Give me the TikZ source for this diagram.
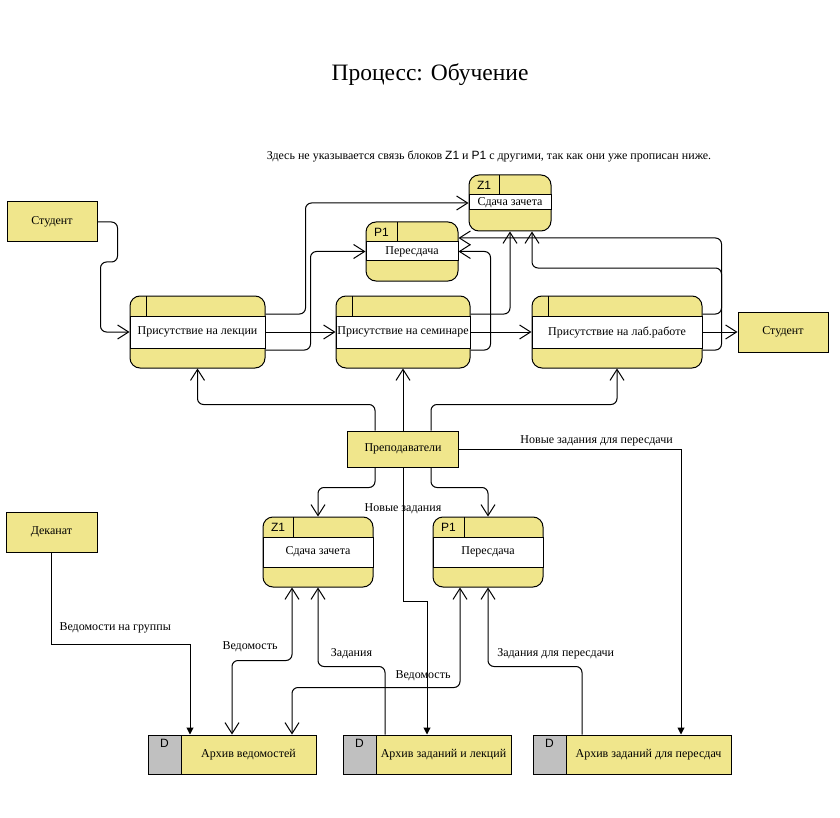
\documentclass[tikz,border=0pt]{standalone}
\usepackage{fontspec}
\setmainfont{Liberation Serif}
\setsansfont{Liberation Sans}
\usetikzlibrary{arrows.meta}

\definecolor{khaki}{HTML}{F0E68C}
\definecolor{storegrey}{HTML}{C0C0C0}

\tikzstyle{proc}     = [draw, rectangle, rounded corners=10pt, fill=khaki, line width=1pt]
\tikzstyle{ext}      = [draw, rectangle, fill=khaki, line width=1pt]
\tikzstyle{storebox} = [draw, rectangle, fill=khaki, minimum height=39pt, line width=1pt]
\tikzstyle{tag}      = [font=\sffamily\fontsize{12}{14}\selectfont]
\tikzstyle{flow}     = [-{Straight Barb[length=11pt,width=14pt]}, line width=1pt, rounded corners=6pt]
\tikzstyle{both}     = [{Straight Barb[length=11pt,width=14pt]}-{Straight Barb[length=11pt,width=14pt]}, line width=1pt, rounded corners=6pt]
\tikzstyle{feed}     = [-{Triangle[length=7pt,width=7pt]}, line width=1pt]

% name, left, top, width, height, band, divider, id, text
\newcommand{\procbox}[9]{%
  \node at (#2+#4/2,#3+#5/2) (#1) [proc, minimum width=#4pt, minimum height=#5pt] {};
  \draw[line width=1pt, fill=white] (#2,#3+20) rectangle (#2+#4,#3+20+#6);
  \draw[line width=1pt] (#2+#7,#3) -- (#2+#7,#3+20);
  \node at (#2+#7/2,#3+10) [tag] {#8};
  \node at (#2+#4/2,#3+20+#6/2) {#9};
}
% name, left, top, width, text
\newcommand{\datastore}[5]{%
  \node at (#2+#4/2,#3+19.5) (#1) [storebox, minimum width=#4pt] {};
  \draw[line width=1pt, fill=storegrey] (#2,#3) rectangle (#2+33,#3+39);
  \node at (#2+16.5,#3+8) [tag] {D};
  \node at (#2+33+#4/2-16.5,#3+20) {#5};
}

\begin{document}
\begin{tikzpicture}[x=1pt,y=-1pt,font=\fontsize{12}{14}\selectfont]
  \useasboundingbox (0,0) rectangle (840,818);
  \node at (430,75) (title) [font=\fontsize{23.5}{28}\selectfont] {Процесс: Обучение};
  \node at (489,157) (note) [font=\fontsize{12}{14}\selectfont]
    {Здесь не указывается связь блоков {\sffamily Z1} и {\sffamily P1} с другими, так как они уже прописан ниже.};

  % external entities
  \node at (52,222)  (stud1) [ext, minimum width=90pt, minimum height=40pt] {Студент};
  \node at (783,332) (stud2) [ext, minimum width=90pt, minimum height=40pt] {Студент};
  \node at (403,449) (prep)  [ext, minimum width=111pt, minimum height=36pt] {Преподаватели};
  \node at (51.5,532) (dek)  [ext, minimum width=91pt, minimum height=40pt] {Деканат};

  % processes
  \procbox{lec}{130}{296}{135}{72}{32}{16}{}{Присутствие на лекции}
  \procbox{sem}{336}{296}{134}{72}{32}{16}{}{Присутствие на семинаре}
  \procbox{lab}{532}{296}{170}{72}{32}{16}{}{Присутствие на лаб.работе}
  \procbox{zt}{469}{175}{82}{56}{15}{30}{Z1}{Сдача зачета}
  \procbox{pt}{366}{222}{92}{59}{19}{31}{P1}{Пересдача}
  \procbox{zb}{263}{517}{110}{70}{30}{30}{Z1}{Сдача зачета}
  \procbox{pb}{433}{517}{110}{70}{30}{31}{P1}{Пересдача}

  % stores
  \datastore{av}{148}{735}{168}{Архив ведомостей}
  \datastore{az}{343}{735}{168}{Архив заданий и лекций}
  \datastore{ap}{533}{735}{198}{Архив заданий для пересдач}

  % upper flows
  \draw[flow] (stud1.east) -- ++(20,0) -- ++(0,40) -- ++(-17,0) |- (lec.west);
  \draw[flow] ([yshift=18pt]lec.east) -- ++(40,0) |- (zt.west);
  \draw[flow] ([yshift=-18pt]lec.east) -- ++(45,0) |- (pt.west);
  \path[flow] (lec) edge (sem)
              (sem) edge (lab)
              (lab) edge (stud2);
  \draw[flow] ([yshift=18pt]sem.east) -| (zt.south);
  \draw[flow] ([yshift=-18pt]sem.east) -- ++(20,0) |- (pt.east);
  \draw[flow] ([yshift=18pt]lab.east) -- ++(19,0) -- ++(0,-46) -| ([xshift=22pt]zt.south);
  \draw[flow] ([yshift=-18pt]lab.east) -- ++(19,0) |- ([yshift=13.5pt]pt.east);

  % teachers
  \draw[flow] ([xshift=-28pt]prep.north) -- ++(0,-26) -| (lec.south);
  \path[flow] (prep) edge (sem);
  \draw[flow] ([xshift=28pt]prep.north) -- ++(0,-26) -| (lab.south);
  \draw[flow] ([xshift=-28pt]prep.south) -- ++(0,20) -| (zb.north);
  \draw[flow] ([xshift=28pt]prep.south) -- ++(0,20) -| (pb.north);
  \draw[feed] (prep.south) -- node[pos=0.31] {Новые задания} ++(0,134) -| (az.north);
  \draw[feed] (prep.east) -| node[pos=0.31,yshift=8pt] {Новые задания для пересдачи} ([xshift=49pt]ap.north);

  % lower flows
  \draw[feed] (dek.south) -- ++(0,92) -| node[pos=0.23,yshift=17pt] {Ведомости на группы} ([xshift=-42pt]av.north);
  \draw[both] (av.north) -- ++(0,-74) -| node[pos=0.15,yshift=14pt] {Ведомость} ([xshift=-26pt]zb.south);
  \draw[both] ([xshift=60pt]av.north) -- ++(0,-47) -| node[pos=0.39,yshift=12pt] {Ведомость} ([xshift=-28pt]pb.south);
  \draw[flow] ([xshift=-42pt]az.north) -- ++(0,-68) -| node[pos=0.25,yshift=13pt] {Задания} (zb.south);
  \draw[flow] ([xshift=-50pt]ap.north) -- ++(0,-68) -| node[pos=0.14,yshift=13pt] {Задания для пересдачи} (pb.south);
\end{tikzpicture}
\end{document}
